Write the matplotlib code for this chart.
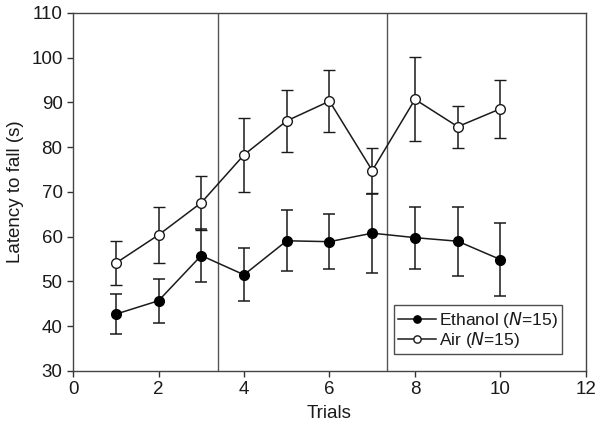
import matplotlib
matplotlib.use("Agg")
import matplotlib.pyplot as plt

plt.rcParams['font.family'] = ['Liberation Sans', 'DejaVu Sans']

# data
trials = [1, 2, 3, 4, 5, 6, 7, 8, 9, 10]
ethanol_mean = [42.7, 45.7, 55.8, 51.5, 59.1, 58.9, 60.8, 59.8, 59.0, 54.9]
ethanol_err = [4.5, 4.9, 6.0, 5.9, 6.8, 6.2, 8.8, 6.9, 7.7, 8.2]
air_mean = [54.1, 60.4, 67.6, 78.3, 85.9, 90.3, 74.8, 90.7, 84.6, 88.6]
air_err = [4.9, 6.3, 6.0, 8.3, 7.0, 6.9, 5.1, 9.4, 4.7, 6.5]
block_bounds = [3.4, 7.35]

fig = plt.figure(figsize=(6.01, 4.29), dpi=100)
ax = fig.add_axes([0.1215, 0.1352, 0.8535, 0.8345])

for b in block_bounds:
    ax.axvline(b, color='#555555', lw=1.0, zorder=1)

ax.errorbar(trials, ethanol_mean, yerr=ethanol_err, color='#1a1a1a', lw=1.1,
            marker='o', ms=7, mfc='black', mec='black', capsize=4.5, elinewidth=1.1,
            capthick=1.1, label='Ethanol ($\\it{N}$=15)', zorder=3)
ax.errorbar(trials, air_mean, yerr=air_err, color='#1a1a1a', lw=1.1,
            marker='o', ms=7, mfc='white', mec='#1a1a1a', mew=1.0, capsize=4.5,
            elinewidth=1.1, capthick=1.1, label='Air ($\\it{N}$=15)', zorder=3)

ax.set_xlim(0, 12)
ax.set_ylim(30, 110)
ax.set_xticks(range(0, 13, 2))
ax.set_yticks(range(30, 111, 10))
ax.tick_params(direction='out', length=4, width=1, labelsize=13.5, color='#333333',
               colors='#1a1a1a')
for s in ax.spines.values():
    s.set_color('#444444')
    s.set_linewidth(1.0)

ax.set_xlabel('Trials', fontsize=13.5, color='#1a1a1a', labelpad=5)
ax.set_ylabel('Latency to fall (s)', fontsize=13.5, color='#1a1a1a', labelpad=5)

handles, labels = ax.get_legend_handles_labels()
handles = [h[0] for h in handles]
leg = ax.legend(handles, labels, loc='lower right', bbox_to_anchor=(0.953, 0.047),
                fontsize=12.5, frameon=True, fancybox=False, handlelength=2.2,
                handletextpad=0.15, borderpad=0.25, labelspacing=0.0, borderaxespad=0,
                markerscale=0.75)
leg.get_frame().set_edgecolor('#222222')
leg.get_frame().set_linewidth(1.0)
for t in leg.get_texts():
    t.set_color('#1a1a1a')

fig.savefig('out.png', dpi=100)
